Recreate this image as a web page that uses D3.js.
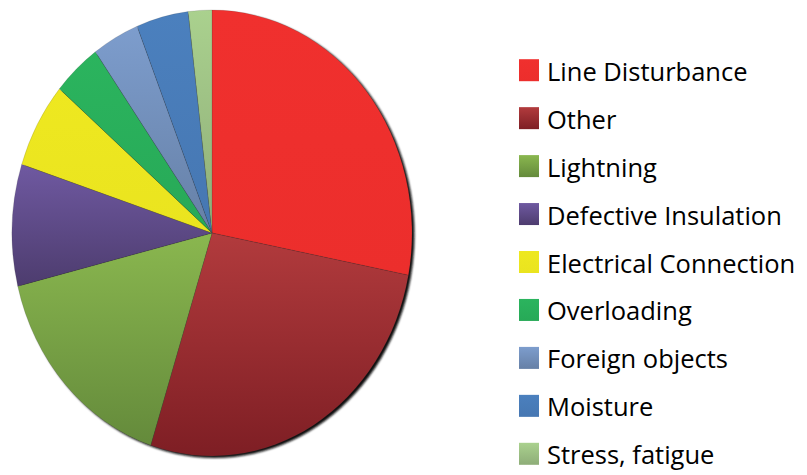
<!DOCTYPE html>
<html>
<head>
<meta charset="utf-8">
<script src="https://cdn.jsdelivr.net/npm/d3@7"></script>
<style>
  body { margin: 0; background: #fff; }
  text { font-family: "Open Sans", "Liberation Sans", sans-serif; }
</style>
</head>
<body>
<div id="chart"></div>
<script>
// data (share of failures, %)
var causes = ["Line Disturbance", "Other", "Lightning", "Defective Insulation",
              "Electrical Connection", "Overloading", "Foreign objects", "Moisture", "Stress, fatigue"];
var shares = [28.0, 26.9, 16.2, 8.8, 6.2, 3.9, 3.8, 4.2, 1.9];

// top / bottom colour of each slice gradient
var topColors    = ["#F0302E", "#B23B3D", "#8AB74F", "#6F59A1", "#EEE820", "#2BB45E", "#7D9DCD", "#4B80BE", "#AAD18E"];
var bottomColors = ["#EC2E2C", "#7E1E24", "#648A3B", "#4D3C6E", "#EAE41F", "#27A957", "#6680A6", "#4677B2", "#8EAD78"];

var width = 807, height = 475;
var cx = 212, cy = 233, rx = 200, ry = 223;

var svg = d3.select("#chart")
  .append("svg")
    .attr("width", width)
    .attr("height", height);

var defs = svg.append("defs");
causes.forEach(function(c, i) {
  var g = defs.append("linearGradient")
    .attr("id", "grad" + i)
    .attr("x1", 0).attr("y1", 0).attr("x2", 0).attr("y2", 1);
  g.append("stop").attr("offset", "0%").attr("stop-color", topColors[i]);
  g.append("stop").attr("offset", "100%").attr("stop-color", bottomColors[i]);
});

defs.append("filter").attr("id", "blur")
  .append("feGaussianBlur").attr("stdDeviation", 1.2);

var data = causes.map(function(c, i) { return {cause: c, value: shares[i], i: i}; });

var pie = d3.pie()
  .sort(null)
  .value(function(d) { return d.value; });

var arc = d3.arc()
  .innerRadius(0)
  .outerRadius(rx);

// soft dark edge on the right / bottom
svg.append("ellipse")
  .attr("cx", cx + 2.5)
  .attr("cy", cy + 2)
  .attr("rx", rx)
  .attr("ry", ry)
  .attr("fill", "#111")
  .attr("filter", "url(#blur)");

var pieG = svg.append("g")
  .attr("transform", "translate(" + cx + "," + cy + ") scale(1," + (ry / rx) + ")");

pieG.selectAll("path")
  .data(pie(data))
  .enter()
  .append("path")
    .attr("d", arc)
    .attr("fill", function(d) { return "url(#grad" + d.data.i + ")"; })
    .attr("stroke", "rgba(60,60,60,0.3)")
    .attr("stroke-width", 0.5);

// legend
var legendX = 519, firstBase = 80.7, step = 47.95;

var legend = svg.append("g");
var item = legend.selectAll("g")
  .data(data)
  .enter()
  .append("g")
    .attr("transform", function(d, i) { return "translate(" + legendX + "," + (firstBase + i * step) + ")"; });

item.append("rect")
  .attr("x", 0)
  .attr("y", -21.5)
  .attr("width", 20)
  .attr("height", 22)
  .attr("fill", function(d) { return "url(#grad" + d.i + ")"; });

item.append("text")
  .attr("x", 28)
  .attr("y", 0)
  .attr("font-size", 25.5)
  .attr("fill", "#000")
  .text(function(d) { return d.cause; });
</script>
</body>
</html>
